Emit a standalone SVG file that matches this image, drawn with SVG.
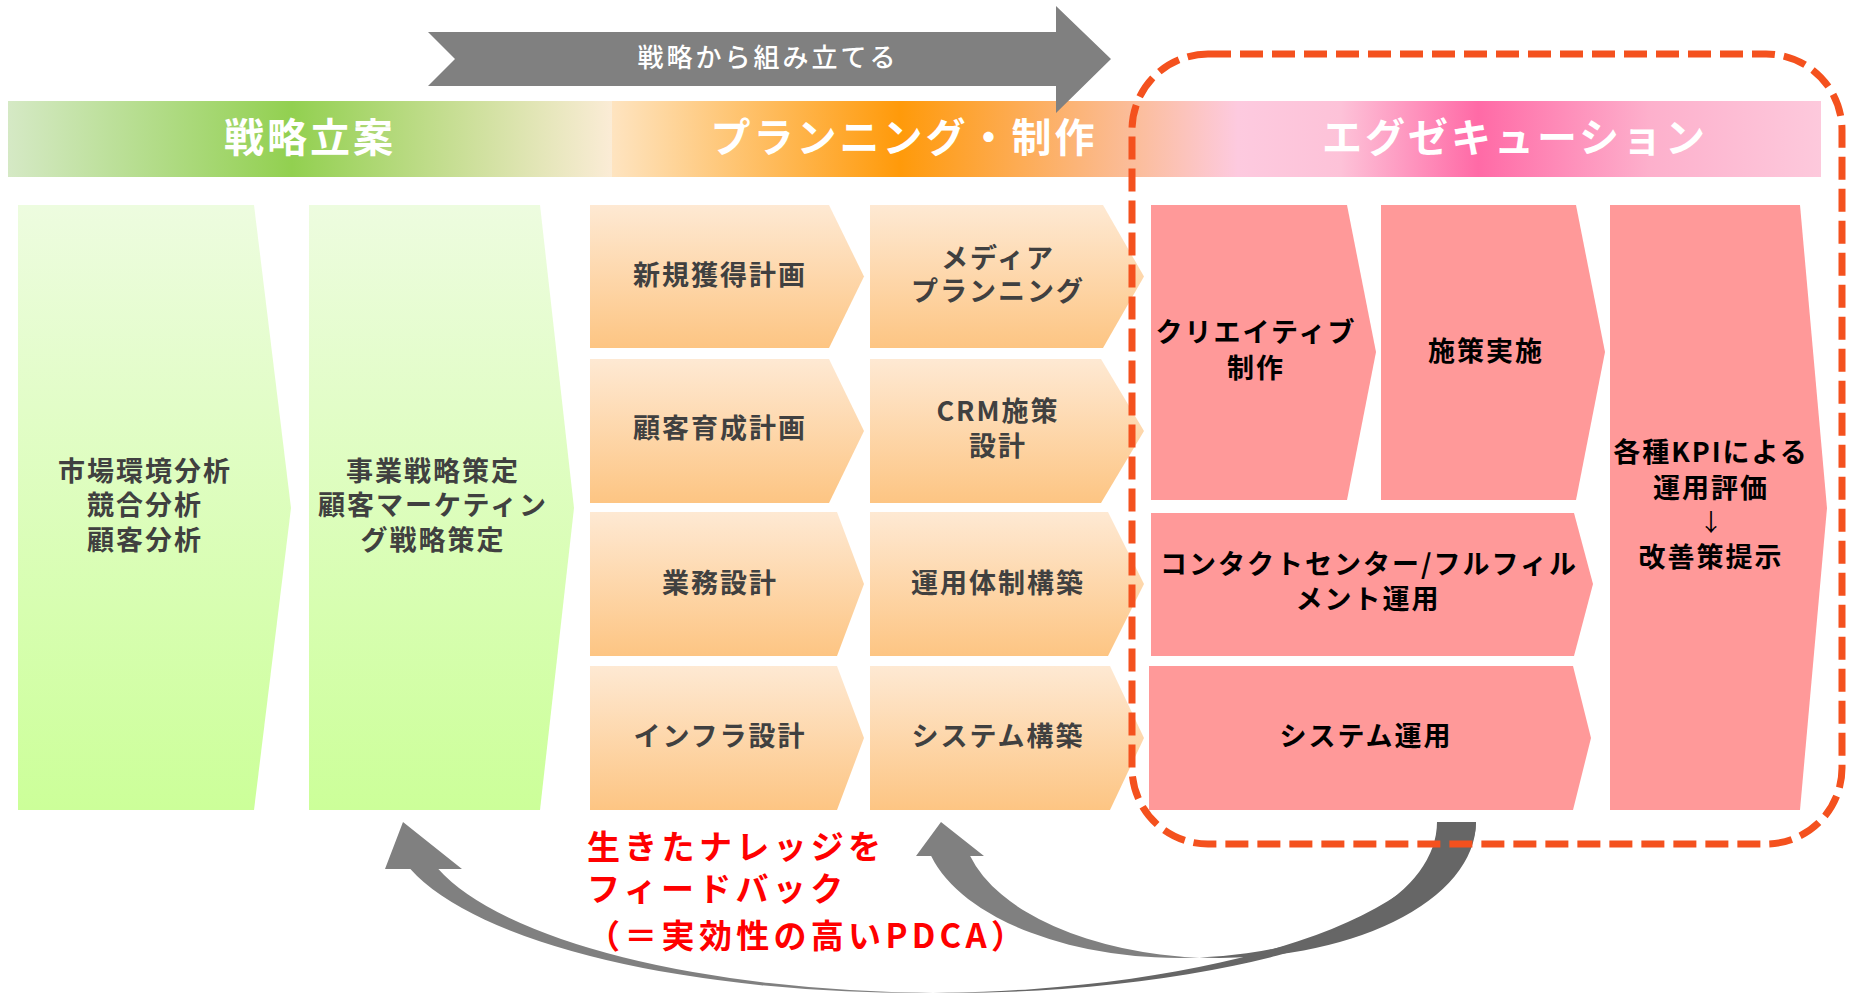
<svg xmlns="http://www.w3.org/2000/svg" width="1854" height="993" viewBox="0 0 1854 993">
<defs>
<linearGradient id="gGreenBand" x1="0" y1="0" x2="1" y2="0">
<stop offset="0" stop-color="#d5e9c5"/>
<stop offset="0.47" stop-color="#92d050"/>
<stop offset="1" stop-color="#fbecd6"/>
</linearGradient>
<linearGradient id="gOrangeBand" x1="0" y1="0" x2="1" y2="0">
<stop offset="0" stop-color="#fee4c0"/>
<stop offset="0.55" stop-color="#ff9a0a"/>
<stop offset="1" stop-color="#fbbd9c"/>
</linearGradient>
<linearGradient id="gPinkBand" x1="0" y1="0" x2="1" y2="0">
<stop offset="0" stop-color="#fbbd9a"/>
<stop offset="0.15" stop-color="#fdcadf"/>
<stop offset="0.3" stop-color="#fdc2d8"/>
<stop offset="0.5" stop-color="#ff6aa6"/>
<stop offset="0.75" stop-color="#fdb0cc"/>
<stop offset="1" stop-color="#fdc9dc"/>
</linearGradient>
<linearGradient id="gGreen" x1="0" y1="0" x2="0" y2="1">
<stop offset="0" stop-color="#edfcdf"/>
<stop offset="1" stop-color="#ccff99"/>
</linearGradient>
<linearGradient id="gOrange" x1="0" y1="0" x2="0" y2="1">
<stop offset="0" stop-color="#fee9d3"/>
<stop offset="1" stop-color="#fdc583"/>
</linearGradient>
<style>
text{font-family:"Noto Sans CJK JP","Noto Sans",sans-serif;text-anchor:middle;dominant-baseline:central}
.band{fill:#ffffff;font-size:40px;font-weight:bold;letter-spacing:3px}
.dark{fill:#404040;font-size:27px;font-weight:bold;letter-spacing:2px}
.blk{fill:#000000;font-size:27px;font-weight:bold;letter-spacing:2px}
.red{fill:#ff0000;font-size:33px;font-weight:bold;letter-spacing:4.3px;text-anchor:start}
.green{fill:url(#gGreen)}
.orange{fill:url(#gOrange)}
.pink{fill:#ff9999}
.light{fill:#808080}
.shade{fill:#666666}
</style>
</defs>
<rect width="1854" height="993" fill="#ffffff"/>

<g id="phase-band">
<rect x="8" y="101" width="604" height="76" fill="url(#gGreenBand)"/>
<rect x="612" y="101" width="523" height="76" fill="url(#gOrangeBand)"/>
<rect x="1135" y="101" width="686" height="76" fill="url(#gPinkBand)"/>
<text class="band" x="310" y="135">戦略立案</text>
<text class="band" x="904" y="135">プランニング・制作</text>
<text class="band" x="1515" y="135">エグゼキューション</text>
</g>

<g id="top-arrow">
<polygon class="light" points="428,32 1056,32 1056,6 1111,59 1056,113 1056,86 428,86 455,59"/>
<text x="768" y="55" fill="#ffffff" style="font-size:26px;font-weight:500;letter-spacing:3px">戦略から組み立てる</text>
</g>

<g id="node-market">
<polygon class="green" points="18,205 254,205 291,508 254,810 18,810"/>
<text class="dark" x="145" y="469">市場環境分析</text>
<text class="dark" x="145" y="503">競合分析</text>
<text class="dark" x="145" y="538">顧客分析</text>
</g>
<g id="node-strategy">
<polygon class="green" points="309,205 540,205 574,508 540,810 309,810"/>
<text class="dark" x="433" y="469">事業戦略策定</text>
<text class="dark" x="433" y="503">顧客マーケティン</text>
<text class="dark" x="433" y="538">グ戦略策定</text>
</g>

<g id="node-acq">
<polygon class="orange" points="590,205 829,205 864,276.5 829,348 590,348"/>
<text class="dark" x="720" y="273">新規獲得計画</text>
</g>
<g id="node-nurture">
<polygon class="orange" points="590,359 829,359 864,431 829,503 590,503"/>
<text class="dark" x="720" y="426">顧客育成計画</text>
</g>
<g id="node-bizdesign">
<polygon class="orange" points="590,512 837,512 864,584 837,656 590,656"/>
<text class="dark" x="720" y="581">業務設計</text>
</g>
<g id="node-infra">
<polygon class="orange" points="590,666 837,666 864,738 837,810 590,810"/>
<text class="dark" x="720" y="734">インフラ設計</text>
</g>

<g id="node-media">
<polygon class="orange" points="870,205 1103,205 1144,276.5 1103,348 870,348"/>
<text class="dark" x="998" y="256">メディア</text>
<text class="dark" x="998" y="289">プランニング</text>
</g>
<g id="node-crm">
<polygon class="orange" points="870,359 1101,359 1144,431 1101,503 870,503"/>
<text class="dark" x="998" y="409">CRM施策</text>
<text class="dark" x="998" y="444">設計</text>
</g>
<g id="node-ops">
<polygon class="orange" points="870,512 1108,512 1144,584 1108,656 870,656"/>
<text class="dark" x="998" y="581">運用体制構築</text>
</g>
<g id="node-sys">
<polygon class="orange" points="870,666 1110,666 1144,738 1110,810 870,810"/>
<text class="dark" x="998" y="734">システム構築</text>
</g>

<g id="node-creative">
<polygon class="pink" points="1151,205 1347,205 1376,352 1347,500 1151,500"/>
<text class="blk" x="1256" y="330">クリエイティブ</text>
<text class="blk" x="1256" y="366">制作</text>
</g>
<g id="node-exec">
<polygon class="pink" points="1381,205 1576,205 1605,352 1576,500 1381,500"/>
<text class="blk" x="1486" y="349">施策実施</text>
</g>
<g id="node-contact">
<polygon class="pink" points="1151,513 1574,513 1593,584 1574,656 1151,656"/>
<text class="blk" x="1369" y="562">コンタクトセンター/フルフィル</text>
<text class="blk" x="1368" y="597">メント運用</text>
</g>
<g id="node-sysops">
<polygon class="pink" points="1149,666 1573,666 1591,738 1573,810 1149,810"/>
<text class="blk" x="1366" y="734">システム運用</text>
</g>
<g id="node-kpi">
<polygon class="pink" points="1610,205 1800,205 1827,508 1800,810 1610,810"/>
<text class="blk" x="1711" y="450">各種KPIによる</text>
<text class="blk" x="1711" y="486">運用評価</text>
<text x="1711" y="520" style="fill:#000000;font-size:24px;font-weight:normal">↓</text>
<text class="blk" x="1711" y="555">改善策提示</text>
</g>

<g id="connectors">
<g id="feedback-long">
<path class="light" d="M410.37,869 L385,869 L403,822 L462,869 L438.37,869 A529,171 0 0 0 933,992.94 A529,171 0 0 1 410.37,869 Z"/>
<path class="shade" d="M1448,822 L1476,822 A529,171 0 0 1 933,992.94 A529,171 0 0 0 1448,822 Z"/>
</g>
<g id="feedback-short">
<path class="light" d="M931.16,856 L916,856 L941,822 L984,856 L970.16,856 A257,136 0 0 0 1199.5,957.61 A257,136 0 0 1 931.16,856 Z"/>
<path class="shade" d="M1437,822 L1476,822 A257,136 0 0 1 1199.5,957.61 A257,136 0 0 0 1437,822 Z"/>
</g>
</g>

<g id="feedback-label">
<text class="red" x="587" y="845">生きたナレッジを</text>
<text class="red" x="587" y="887">フィードバック</text>
<text class="red" x="587" y="934">（＝実効性の高いPDCA）</text>
</g>

<g id="execution-frame">
<rect x="1132" y="54" width="710" height="790" rx="76" ry="76" fill="none" stroke="#f4511e" stroke-width="7" stroke-dasharray="23 9"/>
</g>
</svg>
